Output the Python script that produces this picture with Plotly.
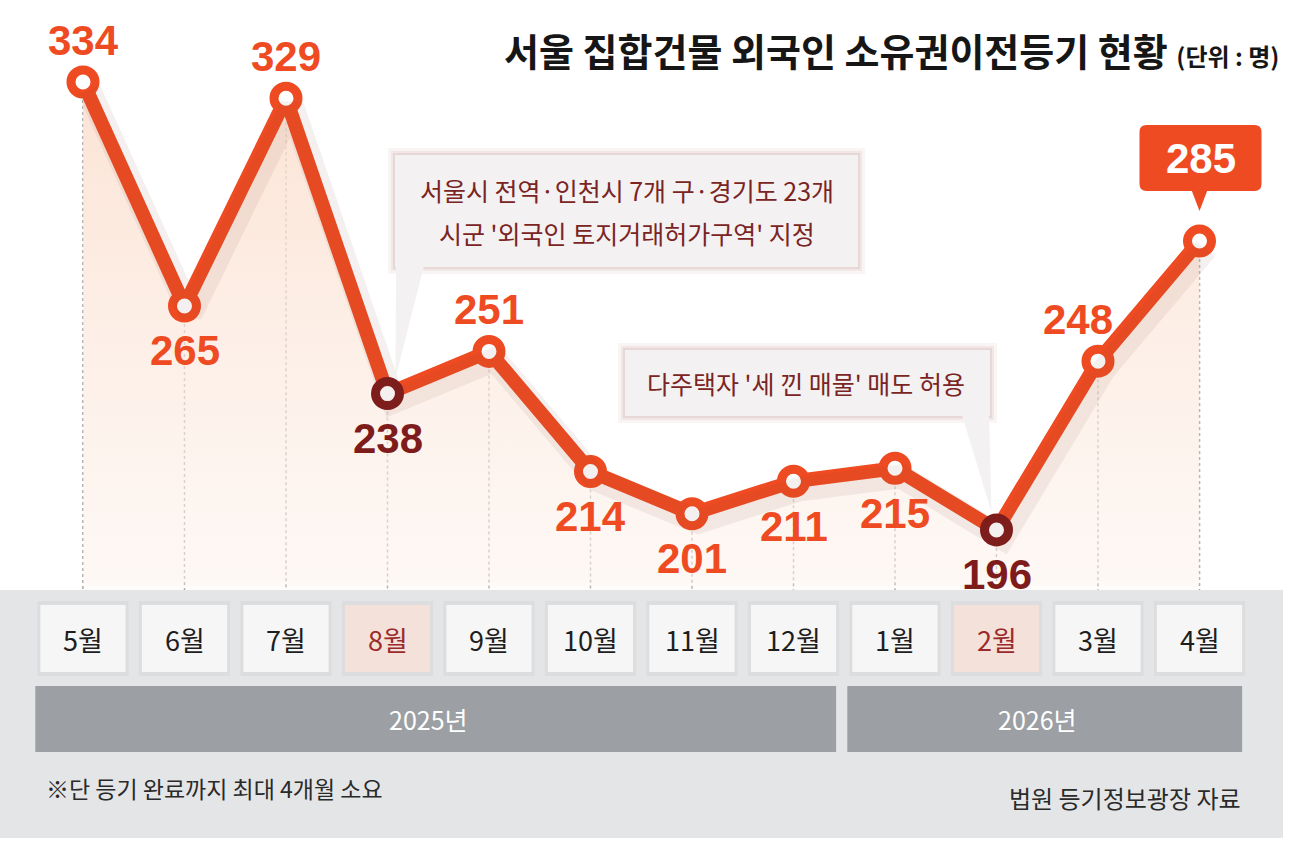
import plotly.graph_objects as go

# ------------------------
# Data
# ------------------------
months = ["5월", "6월", "7월", "8월", "9월", "10월", "11월", "12월", "1월", "2월", "3월", "4월"]
counts = [334, 265, 329, 238, 251, 214, 201, 211, 215, 196, 248, 285]
years = ["2025년", "2026년"]
year_spans = [(0, 7), (8, 11)]          # month index range of each year
highlight_months = ["8월", "2월"]

title = "서울 집합건물 외국인 소유권이전등기 현황"
unit = "(단위 : 명)"
note_policy_1 = ["서울시 전역·인천시 7개 구·경기도 23개", "시군 '외국인 토지거래허가구역' 지정"]
note_policy_2 = "다주택자 '세 낀 매물' 매도 허용"
footnote = "※단 등기 완료까지 최대 4개월 소요"
source = "법원 등기정보광장 자료"

# label side for each point (style only)
label_side = ["up", "down", "up", "down", "up", "down", "down", "down", "down", "down", "up", "box"]

# ------------------------
# Layout helpers (pixel based)
# ------------------------
W, H = 1290, 846
X_FIRST, X_STEP = 83, 101.5
Y_REF_PX, Y_REF_VAL, PX_PER_UNIT = 82, 334, 3.246

ORANGE = "#ef4b22"
MAROON = "#7e1c1c"
NOTE_RED = "#7a2424"
KR = "Noto Sans CJK KR, Noto Sans, sans-serif"
NUM = "Liberation Sans, Arial, sans-serif"


def val_of_py(y):
    return Y_REF_VAL - (y - Y_REF_PX) / PX_PER_UNIT


def py_of_val(v):
    return Y_REF_PX + (Y_REF_VAL - v) * PX_PER_UNIT


def px_of_i(i):
    return X_FIRST + i * X_STEP


def fx(x):
    return x / W


def fy(y):
    return 1 - y / H


def rect(x0, y0, x1, y1, color, layer="above"):
    return dict(type="rect", xref="paper", yref="paper",
                x0=fx(x0), x1=fx(x1), y0=fy(y1), y1=fy(y0),
                fillcolor=color, line=dict(width=0), layer=layer)


def poly(points, color, layer="above"):
    d = "M " + " L ".join(f"{fx(x)},{fy(y)}" for x, y in points) + " Z"
    return dict(type="path", xref="paper", yref="paper", path=d,
                fillcolor=color, line=dict(width=0), layer=layer)


def text_at(x, y, text, size, color, family=KR, xanchor="center", xref="paper"):
    return dict(x=x, y=fy(y), xref=xref, yref="paper", text=text, showarrow=False,
                xanchor=xanchor, yanchor="middle",
                font=dict(family=family, size=size, color=color))


x_idx = list(range(len(months)))
is_hl = [m in highlight_months for m in months]
PANEL_TOP = 590

fig = go.Figure()

# area under the line
fig.add_trace(go.Scatter(
    x=x_idx, y=counts, mode="none", fill="tozeroy",
    fillgradient=dict(type="vertical", start=val_of_py(PANEL_TOP + 5), stop=max(counts),
                      colorscale=[[0, "rgba(253,243,237,0)"], [0.03, "rgba(253,243,237,0.6)"],
                                  [1, "rgba(251,222,205,0.85)"]]),
    hoverinfo="skip", showlegend=False
))

# soft shadow of the line
fig.add_trace(go.Scatter(
    x=x_idx, y=counts, mode="lines", xaxis="x2", yaxis="y2",
    line=dict(color="rgba(120,70,50,0.08)", width=24),
    hoverinfo="skip", showlegend=False
))

# main line
fig.add_trace(go.Scatter(
    x=x_idx, y=counts, mode="lines",
    line=dict(color=ORANGE, width=14),
    hoverinfo="skip", showlegend=False
))

# markers
fig.add_trace(go.Scatter(
    x=x_idx, y=counts, mode="markers",
    marker=dict(size=24, color="white", symbol="circle",
                line=dict(color=[MAROON if h else ORANGE for h in is_hl], width=9)),
    hoverinfo="skip", showlegend=False
))

shapes = []

# dotted guides from each point down to the panel
for i, v in zip(x_idx, counts):
    shapes.append(dict(type="line", xref="x", yref="y", x0=i, x1=i,
                       y0=v, y1=val_of_py(PANEL_TOP),
                       line=dict(color="#9a9a9a", width=1.5, dash="dot"), layer="below"))

# bottom grey panel
shapes.append(rect(0, PANEL_TOP, 1283, 838, "#e4e5e7"))

# month boxes
for i, m in enumerate(months):
    shapes.append(dict(type="rect", xref="x", yref="paper", x0=i - 0.45, x1=i + 0.45,
                       y0=fy(676), y1=fy(601), fillcolor="rgba(0,0,0,0.03)",
                       line=dict(width=0), layer="above"))
    shapes.append(dict(type="rect", xref="x", yref="paper", x0=i - 0.42, x1=i + 0.42,
                       y0=fy(672), y1=fy(605),
                       fillcolor="#f4e1d9" if m in highlight_months else "#f6f6f6",
                       line=dict(width=0), layer="above"))

# year bars
for (a, b) in year_spans:
    shapes.append(dict(type="rect", xref="x", yref="paper", x0=a - 0.47, x1=b + 0.42,
                       y0=fy(752), y1=fy(686), fillcolor="#9c9fa3",
                       line=dict(width=0), layer="above"))

# callout 1 (Aug)
for pad, op in [(7, 0.06), (4, 0.08), (2, 0.10)]:
    shapes.append(rect(395 - pad, 155 - pad, 858 + pad, 267 + pad, f"rgba(150,80,80,{op})"))
shapes.append(rect(395, 155, 858, 267, "#f3f1f1"))
p8 = (px_of_i(3), py_of_val(counts[3]))
shapes.append(poly([(396, 266), (424, 266), (p8[0] + 8, p8[1] - 16)], "#f3f1f1"))

# callout 2 (Feb)
for pad, op in [(7, 0.06), (4, 0.08), (2, 0.10)]:
    shapes.append(rect(625 - pad, 350 - pad, 990 + pad, 416 + pad, f"rgba(150,80,80,{op})"))
shapes.append(rect(625, 350, 990, 416, "#f3f1f1"))
p2 = (px_of_i(9), py_of_val(counts[9]))
shapes.append(poly([(962, 415), (989, 415), (p2[0] - 5, p2[1] - 18)], "#f3f1f1"))

# last value box (Apr)
lx, ly = px_of_i(11), py_of_val(counts[11])
bx0, bx1, by0, by1 = lx - 60, lx + 62, ly - 116, ly - 50
r = 7
box_path = (f"M {fx(bx0 + r)},{fy(by0)} L {fx(bx1 - r)},{fy(by0)} "
            f"Q {fx(bx1)},{fy(by0)} {fx(bx1)},{fy(by0 + r)} L {fx(bx1)},{fy(by1 - r)} "
            f"Q {fx(bx1)},{fy(by1)} {fx(bx1 - r)},{fy(by1)} L {fx(bx0 + r)},{fy(by1)} "
            f"Q {fx(bx0)},{fy(by1)} {fx(bx0)},{fy(by1 - r)} L {fx(bx0)},{fy(by0 + r)} "
            f"Q {fx(bx0)},{fy(by0)} {fx(bx0 + r)},{fy(by0)} Z")
shapes.append(dict(type="path", xref="paper", yref="paper", path=box_path,
                   fillcolor=ORANGE, line=dict(width=0), layer="above"))
shapes.append(poly([(lx - 8, by1 - 1), (lx + 8, by1 - 1), (lx, ly - 30)], ORANGE))

annotations = []

# value labels
for i, (v, side) in enumerate(zip(counts, label_side)):
    color = MAROON if is_hl[i] else ORANGE
    if side == "box":
        annotations.append(text_at(fx(lx + 1), (by0 + by1) / 2, f"<b>{v}</b>", 42, "white", NUM))
        continue
    shift = 42 if side == "up" else -45
    xshift = -20 if i == 10 else 0
    annotations.append(dict(x=i, y=v, xref="x", yref="y", text=f"<b>{v}</b>",
                            showarrow=False, yshift=shift, xshift=xshift,
                            xanchor="center", yanchor="middle",
                            font=dict(family=NUM, size=42, color=color)))

# month labels
for i, m in enumerate(months):
    annotations.append(text_at(i, 639, m, 27,
                               "#9b2b2b" if m in highlight_months else "#1e1e1e", xref="x"))

# year labels
for (a, b), yname in zip(year_spans, years):
    annotations.append(text_at((a + b) / 2 - 0.1, 719, yname, 25, "white", xref="x"))

# title
annotations.append(text_at(
    fx(1281), 50,
    f"<b>{title}</b> <span style='font-size:24px'><b>{unit}</b></span>",
    38, "#161616", xanchor="right"))

# callout texts
annotations.append(text_at(fx(627), 190, note_policy_1[0], 25, NOTE_RED))
annotations.append(text_at(fx(627), 233, note_policy_1[1], 25, NOTE_RED))
annotations.append(text_at(fx(806), 383, note_policy_2, 25, NOTE_RED))

# footnote & source
annotations.append(text_at(fx(44), 788, footnote, 23, "#2a2a2a", xanchor="left"))
annotations.append(text_at(fx(1243), 797, source, 24, "#2a2a2a", xanchor="right"))

x_range = [-X_FIRST / X_STEP, (W - X_FIRST) / X_STEP]
y_range = [val_of_py(H), val_of_py(0)]
shadow_dx, shadow_dy = 6 / X_STEP, 8 / PX_PER_UNIT

axis_off = dict(visible=False, showgrid=False, zeroline=False, fixedrange=True)
fig.update_layout(
    width=W, height=H,
    margin=dict(l=0, r=0, t=0, b=0),
    paper_bgcolor="white", plot_bgcolor="white",
    xaxis=dict(range=x_range, **axis_off),
    yaxis=dict(range=y_range, **axis_off),
    xaxis2=dict(range=[x_range[0] - shadow_dx, x_range[1] - shadow_dx], overlaying="x", **axis_off),
    yaxis2=dict(range=[y_range[0] + shadow_dy, y_range[1] + shadow_dy], overlaying="y", **axis_off),
    shapes=shapes,
    annotations=annotations,
    showlegend=False,
)

fig.write_html("out.html", config={"displayModeBar": False},
               post_script="document.body.style.margin='0px';")
